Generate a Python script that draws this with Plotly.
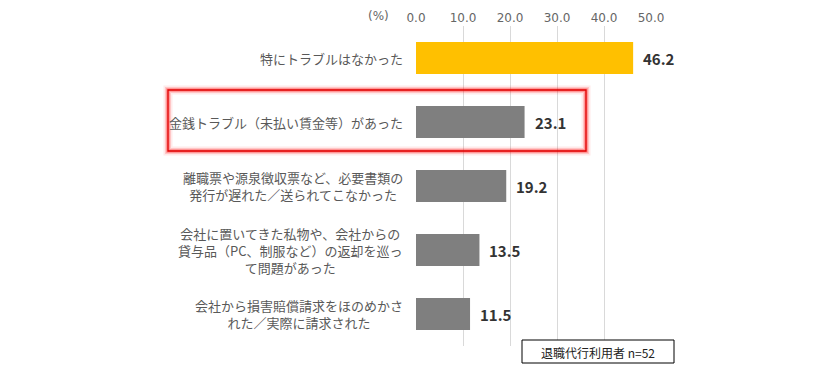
import plotly.graph_objects as go

categories = [
    "特にトラブルはなかった",
    "金銭トラブル（未払い賃金等）があった",
    "離職票や源泉徴収票など、必要書類の<br>発行が遅れた／送られてこなかった",
    "会社に置いてきた私物や、会社からの<br>貸与品（PC、制服など）の返却を巡っ<br>て問題があった",
    "会社から損害賠償請求をほのめかさ<br>れた／実際に請求された",
]
values = [46.2, 23.1, 19.2, 13.5, 11.5]
tick_values = [0, 10, 20, 30, 40, 50]
tick_labels = ["0.0", "10.0", "20.0", "30.0", "40.0", "50.0"]
unit_label = "(%)"
note_label = "退職代行利用者 n=52"

FONT = "Noto Sans CJK JP"
NUM_FONT = "DejaVu Sans"
colors = ["#FFC000"] + ["#7F7F7F"] * (len(values) - 1)

fig = go.Figure()
fig.add_trace(go.Bar(
    x=values, y=list(range(len(categories))), orientation="h",
    marker=dict(color=colors, line=dict(width=0)),
    width=0.5, hoverinfo="skip",
))

annotations = []
for i, (c, v) in enumerate(zip(categories, values)):
    annotations.append(dict(
        x=0, y=i, xref="x", yref="y", text=c, showarrow=False,
        xanchor="right", yanchor="middle", align="center", xshift=-11,
        font=dict(family=FONT, size=13, color="#595959"),
    ))
    annotations.append(dict(
        x=v, y=i, xref="x", yref="y", text=f"<b>{v:.1f}</b>", showarrow=False,
        xanchor="left", yanchor="middle", xshift=8,
        font=dict(family=FONT, size=15, color="#333333"),
    ))

def px_x(p):
    return (p - 416) / 235

def px_y(p):
    return 1 - (p - 26) / 320

annotations.append(dict(
    x=px_x(378), y=px_y(15.5), xref="paper", yref="paper", text=unit_label, showarrow=False,
    xanchor="center", yanchor="middle",
    font=dict(family=NUM_FONT, size=12, color="#666666"),
))
annotations.append(dict(
    x=px_x(598), y=px_y(352), xref="paper", yref="paper",
    text=note_label, showarrow=False, xanchor="center", yanchor="middle",
    font=dict(family=FONT, size=12, color="#222222"),
))

shapes = []
# glowing red box
for w, op in [(9, 0.08), (6, 0.15), (3.5, 0.3)]:
    shapes.append(dict(type="rect", xref="paper", yref="paper",
                       x0=px_x(168), x1=px_x(586), y0=px_y(151), y1=px_y(90),
                       line=dict(color="#FF0000", width=w), opacity=op, layer="above"))
shapes.append(dict(type="rect", xref="paper", yref="paper",
                   x0=px_x(168), x1=px_x(586), y0=px_y(151), y1=px_y(90),
                   line=dict(color="#E00000", width=1.3), layer="above"))
# note box
shapes.append(dict(type="rect", xref="paper", yref="paper",
                   x0=px_x(522), x1=px_x(674), y0=px_y(363), y1=px_y(340),
                   line=dict(color="#000000", width=1), fillcolor="white", layer="above"))

fig.update_layout(
    width=840, height=380,
    margin=dict(l=408, r=197, t=18, b=42),
    paper_bgcolor="white", plot_bgcolor="white",
    showlegend=False,
    annotations=annotations, shapes=shapes,
    xaxis=dict(
        range=[0, 50], side="top", tickvals=tick_values, ticktext=tick_labels,
        showgrid=True, gridcolor="#D9D9D9", gridwidth=1, zeroline=False,
        showline=False, ticks="", fixedrange=True, ticklabelstandoff=1,
        automargin=False,
        tickfont=dict(family=NUM_FONT, size=12, color="#666666"),
    ),
    yaxis=dict(
        range=[len(categories) - 0.5, -0.5], showticklabels=False,
        showgrid=False, zeroline=False, showline=False, fixedrange=True,
        automargin=False,
    ),
)

fig.write_html("out.html")
